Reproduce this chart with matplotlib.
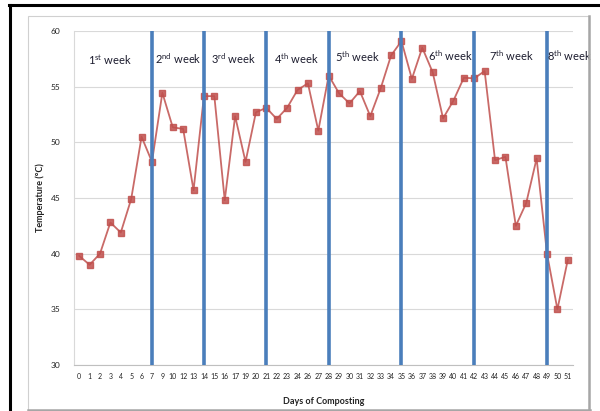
import numpy as np
import matplotlib.pyplot as plt
from matplotlib.patches import Rectangle
from matplotlib.lines import Line2D

plt.rcParams['font.family'] = ['Lato', 'DejaVu Sans']
plt.rcParams['mathtext.fontset'] = 'custom'
plt.rcParams['mathtext.rm'] = 'Lato'

days = ['0', '1', '2', '3', '4', '5', '6', '7', '9', '10', '12', '13', '14',
        '15', '16', '17', '19', '20', '21', '22', '23', '24', '26', '27', '28',
        '29', '30', '31', '32', '33', '34', '35', '36', '37', '38', '39', '40',
        '41', '42', '43', '44', '45', '46', '47', '48', '49', '50', '51']
temps = [39.8, 39.0, 40.0, 42.8, 41.9, 44.9, 50.5, 48.25, 54.45, 51.35,
         51.2, 45.7, 54.15, 54.15, 44.8, 52.35, 48.25, 52.7, 53.1, 52.1,
         53.1, 54.7, 55.3, 51.05, 56.0, 54.4, 53.5, 54.6, 52.35, 54.85,
         57.8, 59.1, 55.7, 58.5, 56.3, 52.15, 53.75, 55.8, 55.75, 56.4,
         48.4, 48.7, 42.5, 44.55, 48.55, 40.0, 35.0, 39.45]
week_ends = ['7', '14', '21', '28', '35', '42', '49']
week_labels = [r'1$^{\mathrm{st}}$ week', r'2$^{\mathrm{nd}}$ week',
               r'3$^{\mathrm{rd}}$ week', r'4$^{\mathrm{th}}$ week',
               r'5$^{\mathrm{th}}$ week', r'6$^{\mathrm{th}}$ week',
               r'7$^{\mathrm{th}}$ week', r'8$^{\mathrm{th}}$ week']
label_x = [3.0, 9.5, 14.8, 20.9, 26.8, 35.7, 41.6, 47.2]
label_y = [57.4, 57.5, 57.5, 57.5, 57.7, 57.8, 57.8, 57.8]

fig = plt.figure(figsize=(6, 4.11), dpi=100)
W, H = 600, 411

# frame of the chart area and the outer black border
fig.patches.append(Rectangle((28 / W, 1 - 410 / H), (589 - 28) / W, (410 - 16) / H,
                             transform=fig.transFigure, fill=False,
                             edgecolor='#d0d0d0', linewidth=0.8))
fig.lines.append(Line2D([589 / W, 589 / W], [1 - 410 / H, 1 - 16 / H],
                        transform=fig.transFigure, color='#a6a6a6', linewidth=1.8))
fig.lines.append(Line2D([28 / W, 590 / W], [1 - 409.5 / H, 1 - 409.5 / H],
                        transform=fig.transFigure, color='#a6a6a6', linewidth=1.8))
fig.lines.append(Line2D([9 / W, 1.0], [1 - 5.5 / H, 1 - 5.5 / H],
                        transform=fig.transFigure, color='black', linewidth=2.2))
fig.lines.append(Line2D([10 / W, 10 / W], [0, 1 - 5 / H],
                        transform=fig.transFigure, color='black', linewidth=2.2))

ax = fig.add_axes([74 / W, 1 - 365 / H, (573 - 74) / W, (365 - 31) / H])
x = np.arange(len(days))

ax.plot(x, temps, color='#c0504d', linewidth=1.3, alpha=0.85,
        marker='s', markersize=5, markerfacecolor='#c0504d',
        markeredgecolor='#c0504d', zorder=3)

for d in week_ends:
    ax.axvline(days.index(d), color='#4a7ebb', linewidth=2.6, zorder=4)

for lbl, lx, ly in zip(week_labels, label_x, label_y):
    ax.text(lx, ly, lbl, ha='center', va='center', fontsize=8,
            color='#1c1c2e', zorder=5)

ax.set_xlim(-0.5, len(days) - 0.5)
ax.set_ylim(30, 60)
ax.set_yticks([30, 35, 40, 45, 50, 55, 60])
ax.set_xticks(x)
ax.set_xticklabels(days)
ax.tick_params(axis='x', length=0, labelsize=5, pad=6, colors='#222222')
ax.tick_params(axis='y', length=0, labelsize=6, pad=10, colors='#222222')
ax.grid(axis='y', color='#d9d9d9', linewidth=0.8)
ax.set_axisbelow(True)

for side in ['top', 'right']:
    ax.spines[side].set_visible(False)
ax.spines['left'].set_color('#d9d9d9')
ax.spines['bottom'].set_color('#bfbfbf')

ax.set_ylabel('Temperature (°C)', fontsize=6.5, fontweight='bold',
              color='#222222', labelpad=4)
ax.set_xlabel('Days of Composting', fontsize=6.5, fontweight='bold',
              color='#222222', labelpad=12)

fig.savefig('out.png', dpi=100)
